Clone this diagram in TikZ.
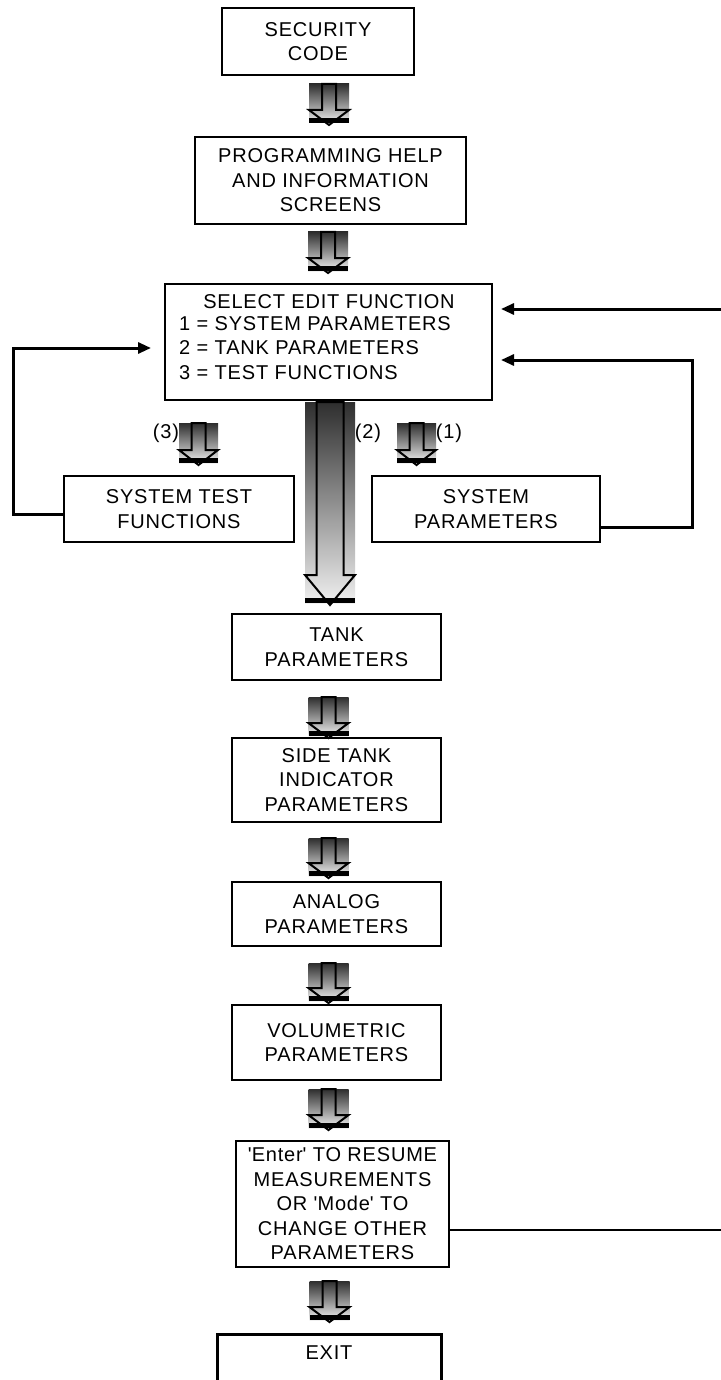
\documentclass[tikz,border=0pt]{standalone}
\usepackage{fontspec}
\setmainfont{Liberation Sans}[LetterSpace=4.0]
\usetikzlibrary{arrows.meta,calc}

\tikzset{
  box/.style={draw, line width=2pt, inner sep=0pt, align=center,
    font=\fontsize{20}{24.5}\selectfont},
  txt/.style={inner sep=0pt, align=center, font=\fontsize{20}{24.5}\selectfont},
  conn/.style={line width=3pt},
  tip/.style={-{Triangle[length=13pt,width=11pt]}}
}

% block arrow: #1 cx, #2 top, #3 bottom, #4 half width, #5 shaft half width, #6 head length
\newcommand{\blkarrow}[6]{%
  \shade[top color=black!82, bottom color=black!6] (#1-#4,#2) rectangle (#1+#4,#3);
  \fill[black] (#1-#4,#3-5) rectangle (#1+#4,#3);
  \draw[line width=2pt, line join=miter, fill=none]
    (#1-#5,#2) -- (#1-#5,#3-#6) -- (#1-#4,#3-#6) -- (#1,#3+2)
    -- (#1+#4,#3-#6) -- (#1+#5,#3-#6) -- (#1+#5,#2) -- cycle;
}

\begin{document}
\begin{tikzpicture}[x=1pt,y=-1pt]
\useasboundingbox (0,0) rectangle (720,1380);
\fill[white] (0,0) rectangle (720,1380);

% boxes
\node[box, minimum width=192, minimum height=67] (sec) at (318,41.5) {SECURITY\\CODE};
\node[box, minimum width=271, minimum height=87] (help) at (330.5,180.5) {PROGRAMMING HELP\\AND INFORMATION\\SCREENS};
\node[box, minimum width=327, minimum height=116] (sel) at (328.5,342) {};
\node[txt] (seltitle) at (329,302) {SELECT EDIT FUNCTION};
\node[txt, align=left, anchor=west] (sellist) at (179,348) {1 = SYSTEM PARAMETERS\\2 = TANK PARAMETERS\\3 = TEST FUNCTIONS};
\node[box, minimum width=230, minimum height=66] (test) at (179,509) {SYSTEM TEST\\FUNCTIONS};
\node[box, minimum width=228, minimum height=66] (sys) at (486,509) {SYSTEM\\PARAMETERS};
\node[box, minimum width=209, minimum height=66] (tank) at (336.5,647) {TANK\\PARAMETERS};
\node[box, minimum width=209, minimum height=84] (side) at (336.5,780) {SIDE TANK\\INDICATOR\\PARAMETERS};
\node[box, minimum width=209, minimum height=64] (analog) at (336.5,914) {ANALOG\\PARAMETERS};
\node[box, minimum width=209, minimum height=75] (vol) at (336.5,1042.5) {VOLUMETRIC\\PARAMETERS};
\node[box, minimum width=213, minimum height=126] (enter) at (342.5,1204)
  {\textquotesingle Enter\textquotesingle{} TO RESUME\\MEASUREMENTS\\OR \textquotesingle Mode\textquotesingle{} TO\\CHANGE OTHER\\PARAMETERS};
\node[box, line width=3pt, minimum width=224, minimum height=80, anchor=north] (exit) at (329,1333) {};
\node[txt] (exittext) at (329,1353) {EXIT};

% block arrows
\blkarrow{329}{84}{123}{20}{7}{13}
\blkarrow{328}{232}{271}{20}{7}{13}
\blkarrow{198.5}{423}{463}{19.5}{7}{13}
\blkarrow{416.5}{423}{463}{19.5}{7}{13}
\blkarrow{330}{402}{603}{25}{13.5}{28}
\blkarrow{328.5}{697}{736}{20}{7}{13}
\blkarrow{328.5}{838}{876}{20}{7}{13}
\blkarrow{328.5}{963}{1001}{20}{7}{13}
\blkarrow{328.5}{1089}{1128}{20}{7}{13}
\blkarrow{329.5}{1281}{1320}{20}{7}{13}

% labels
\node[txt] (l3) at (166,433) {(3)};
\node[txt] (l2) at (368,433) {(2)};
\node[txt] (l1) at (449,433) {(1)};

% connectors
\coordinate (rin) at (722,309);
\coordinate (rout) at (722,1230);
\draw[conn, tip] ($(test.west)+(0,5)$) -| (13,348) -- ($(sel.west)+(-13,6)$);
\draw[conn, tip] ($(sys.east)+(0,18)$) -| (692,360) -- ($(sel.east)+(8,18)$);
\draw[conn, tip] (rin) -- ($(sel.east)+(8,-33)$);
\draw[line width=1.8pt] ($(enter.east)+(0,26)$) -- (rout);
\end{tikzpicture}
\end{document}
